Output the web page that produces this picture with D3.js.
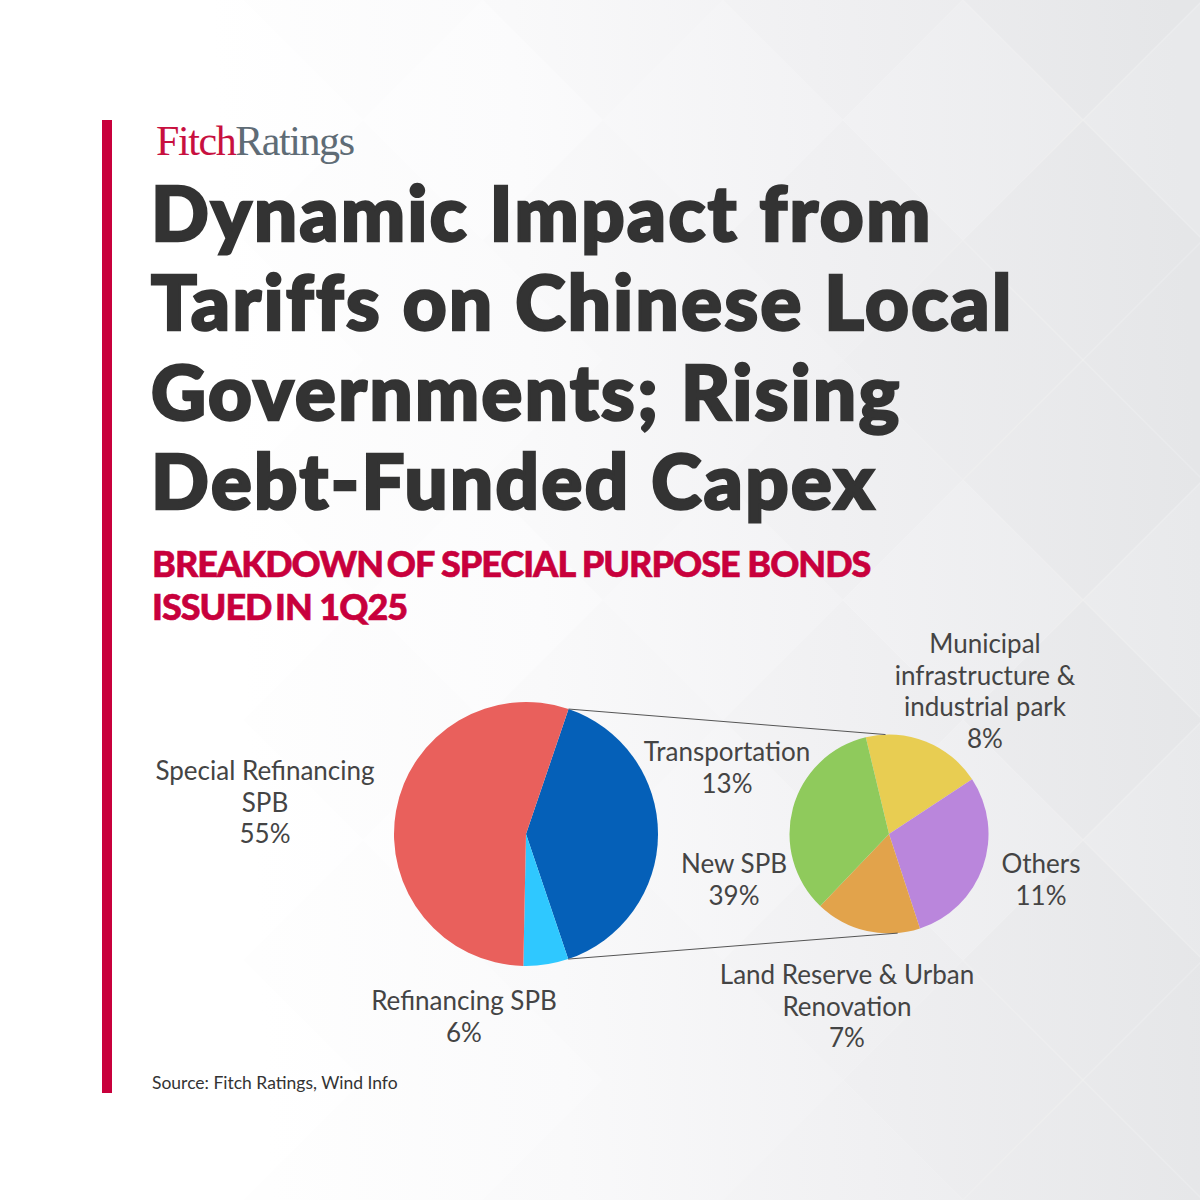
<!DOCTYPE html>
<html>
<head>
<meta charset="utf-8">
<script src="https://cdnjs.cloudflare.com/ajax/libs/d3/7.8.5/d3.min.js"></script>
<style>
html, body { margin: 0; padding: 0; background: #fff; }
svg { display: block; }
text { font-family: Lato, sans-serif; }
</style>
</head>
<body>
<svg id="chart" width="1200" height="1200"></svg>
<script>
// chart values, slightly finer than the printed labels so the slices land right
var mainCategories = ["New SPB", "Refinancing SPB", "Special Refinancing SPB"];
var mainValues = [39.6, 5.5, 54.9];
var mainColors = ["#0560b8", "#2fc8ff", "#e9605c"];

// the small pie splits the New SPB slice
var subCategories = ["Municipal infrastructure & industrial park", "Others", "Land Reserve & Urban Renovation", "Transportation"];
var subValues = [7.6, 11.4, 6.7, 13.3];
var subColors = ["#e8cd52", "#ba86dc", "#e2a34b", "#8fca5c"];

var titleLines = ["Dynamic Impact from", "Tariffs on Chinese Local", "Governments; Rising", "Debt-Funded Capex"];
var subtitleLines = ["BREAKDOWN OF SPECIAL PURPOSE BONDS", "ISSUED IN 1Q25"];

var width = 1200, height = 1200;
var svg = d3.select("#chart");
var defs = svg.append("defs");

// background
var grad = defs.append("linearGradient").attr("id", "bg")
    .attr("x1", "0").attr("y1", "0.5").attr("x2", "1").attr("y2", "0.45");
grad.append("stop").attr("offset", "0.2").attr("stop-color", "#ffffff");
grad.append("stop").attr("offset", "0.45").attr("stop-color", "#fbfbfc");
grad.append("stop").attr("offset", "0.7").attr("stop-color", "#f3f3f5");
grad.append("stop").attr("offset", "1").attr("stop-color", "#e9eaec");
svg.append("rect").attr("width", width).attr("height", height).attr("fill", "url(#bg)");

// diamond lattice over the background
var step = 120;
var diamonds = svg.append("g");
for (var p = -8; p < 3; p++) {
  for (var q = -1; q < 12; q++) {
    if (Math.abs(p + q) % 2 != 1) continue;
    var cx = 963 + p * step, cy = q * step;
    var k = Math.max(0, Math.min(1, (cx - 250) / 700));
    var dark = (Math.abs(p) % 2 == 1) || (q % 6 == 3);
    diamonds.append("path")
      .attr("d", "M" + (cx - step) + "," + cy + "L" + cx + "," + (cy - step) + "L" + (cx + step) + "," + cy + "L" + cx + "," + (cy + step) + "Z")
      .attr("fill", "#6d7078")
      .attr("fill-opacity", (dark ? 0.026 : 0.004) * k)
      .attr("stroke", "#ffffff")
      .attr("stroke-opacity", 0.1 * k)
      .attr("stroke-width", 1.5);
  }
}

// red bar
svg.append("rect").attr("x", 102).attr("y", 120).attr("width", 10).attr("height", 973).attr("fill", "#c8003c");

// logo
var logo = svg.append("text").attr("x", 156).attr("y", 155)
    .style("font-family", "'Liberation Serif', serif").style("font-size", "42px").attr("textLength", 199);
logo.append("tspan").attr("fill", "#c8103f").text("Fitch");
logo.append("tspan").attr("fill", "#5f6c76").text("Ratings");

// title, stroked and spaced out because no Lato Black is installed
var titleY = d3.scalePoint().domain(d3.range(titleLines.length)).range([241, 509]);
svg.selectAll(".title").data(titleLines).enter().append("text")
    .attr("class", "title")
    .attr("x", 151)
    .attr("y", function(d, i) { return titleY(i); })
    .attr("fill", "#333333")
    .attr("stroke", "#333333")
    .attr("stroke-width", 2.6)
    .style("font-size", "76px")
    .style("font-weight", 900)
    .style("letter-spacing", "2.5px")
    .text(function(d) { return d; });

// subtitle, the first gap of each line is set tight in the original
svg.selectAll(".subtitle").data(subtitleLines).enter().append("text")
    .attr("class", "subtitle")
    .attr("x", 152)
    .attr("y", function(d, i) { return 577 + i * 43; })
    .attr("fill", "#c8003c")
    .attr("stroke", "#c8003c")
    .attr("stroke-width", 0.6)
    .style("font-size", "36px")
    .style("font-weight", 900)
    .style("letter-spacing", "-1px")
    .each(function(d) {
      var el = d3.select(this);
      d.split(" ").forEach(function(w, i) {
        el.append("tspan").attr("dx", i == 1 ? -4 : null).text((i > 0 ? " " : "") + w);
      });
    });

// pies
var main = { x: 526, y: 834, r: 132, start: 18.8 };
var sub = { x: 889, y: 834, r: 99.5, start: -13.5 };

function degrees(a) { return a * Math.PI / 180; }

function drawPie(conf, values, colors, cls) {
  var pie = d3.pie().sort(null)
      .startAngle(degrees(conf.start))
      .endAngle(degrees(conf.start + 360));
  var arc = d3.arc().innerRadius(0).outerRadius(conf.r);
  svg.append("g").attr("transform", "translate(" + conf.x + "," + conf.y + ")")
    .selectAll("." + cls).data(pie(values)).enter().append("path")
    .attr("class", cls)
    .attr("d", arc)
    .attr("fill", function(d, i) { return colors[i]; });
  return pie(values);
}

var mainArcs = drawPie(main, mainValues, mainColors, "main-slice");
drawPie(sub, subValues, subColors, "sub-slice");

// connector lines from the New SPB slice to the small pie
function edge(conf, angle) {
  var p = d3.pointRadial(angle, conf.r);
  return [conf.x + p[0], conf.y + p[1]];
}
var connectors = [
  [edge(main, mainArcs[0].startAngle), edge(sub, degrees(-2))],
  [edge(main, mainArcs[0].endAngle), edge(sub, degrees(175))]
];
svg.selectAll(".connector").data(connectors).enter().append("path")
    .attr("class", "connector")
    .attr("d", d3.line())
    .attr("fill", "none")
    .attr("stroke", "#555555")
    .attr("stroke-width", 1);

// labels
var labels = [
  { x: 265, y: 780, lines: ["Special Refinancing", "SPB", "55%"] },
  { x: 464, y: 1010, lines: ["Refinancing SPB", "6%"] },
  { x: 734, y: 873, lines: ["New SPB", "39%"] },
  { x: 727, y: 761, lines: ["Transportation", "13%"] },
  { x: 985, y: 653, lines: ["Municipal", "infrastructure &", "industrial park", "8%"] },
  { x: 1041, y: 873, lines: ["Others", "11%"] },
  { x: 847, y: 984, lines: ["Land Reserve & Urban", "Renovation", "7%"] }
];
labels.forEach(function(l) {
  l.lines.forEach(function(t, i) {
    svg.append("text")
      .attr("class", "label")
      .attr("x", l.x)
      .attr("y", l.y + i * 31.5)
      .attr("text-anchor", "middle")
      .attr("fill", "#444444")
      .style("font-size", "26px")
      .style("font-weight", 400)
      .text(t);
  });
});

// source
svg.append("text").attr("x", 152).attr("y", 1089)
    .attr("fill", "#333333")
    .style("font-size", "17.5px")
    .text("Source: Fitch Ratings, Wind Info");
</script>
</body>
</html>
